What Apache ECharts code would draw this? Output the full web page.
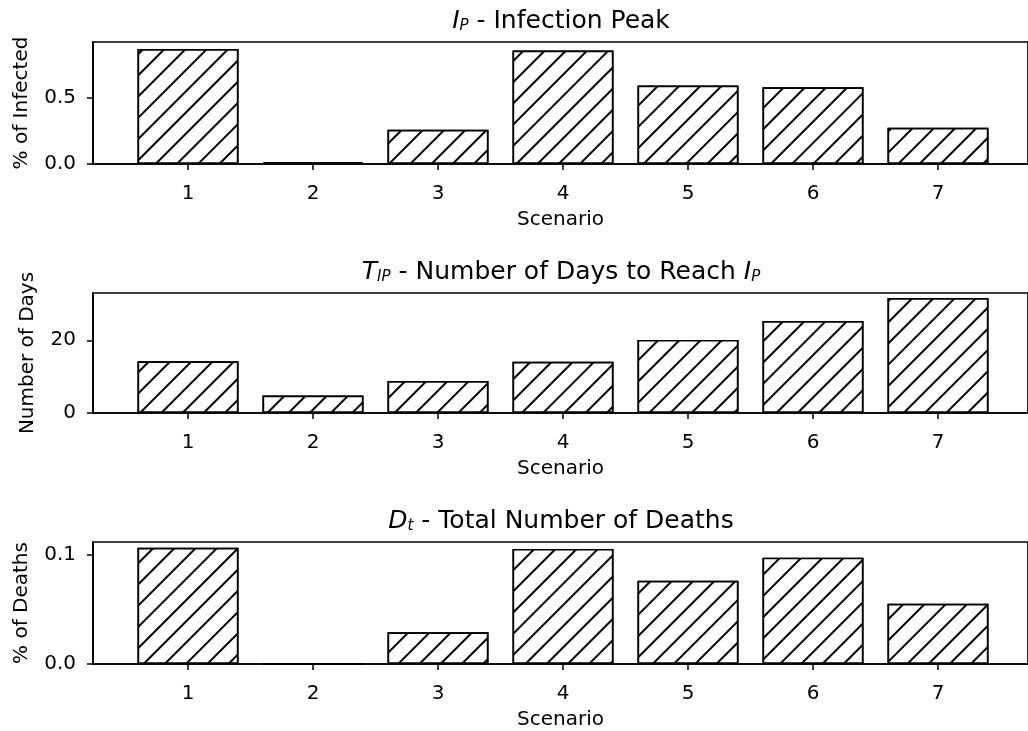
<!DOCTYPE html>
<html>
<head>
<meta charset="utf-8">
<script src="https://cdn.jsdelivr.net/npm/echarts@6/dist/echarts.min.js"></script>
<style>
  html, body { margin: 0; padding: 0; background: #fff; }
  #chart { width: 1028px; height: 731px; }
</style>
</head>
<body>
<div id="chart"></div>
<script>
// scenarios on the x axis
const scenarios = [1, 2, 3, 4, 5, 6, 7];

// I_P - infection peak (% of infected)
const infectionPeak = [0.873, 0.012, 0.26, 0.862, 0.595, 0.583, 0.275];
// T_IP - days to reach the peak
const daysToPeak = [14.2, 4.8, 8.8, 14.1, 20.1, 25.3, 31.6];
// D_t - total deaths (%)
const totalDeaths = [0.106, 0, 0.029, 0.105, 0.076, 0.097, 0.055];

const yTicks1 = [0, 0.5];
const yTicks2 = [0, 20];
const yTicks3 = [0, 0.1];

const FONT = 'DejaVu Sans';
const BLACK = '#000';

const chart = echarts.init(document.getElementById('chart'));

const panels = [
    {top: 42, height: 122, max: 0.926, ticks: yTicks1, digits: 1, name: '% of Infected', gap: 61, data: infectionPeak},
    {top: 293, height: 120, max: 33.0, ticks: yTicks2, digits: 0, name: 'Number of Days', gap: 55, data: daysToPeak},
    {top: 542, height: 122, max: 0.1113, ticks: yTicks3, digits: 1, name: '% of Deaths', gap: 61, data: totalDeaths}
];

const hatch = {
    symbol: 'rect',
    symbolSize: 1,
    color: BLACK,
    backgroundColor: '#fff',
    dashArrayX: [1, 0],
    dashArrayY: [1.6, 12.4],
    rotation: -Math.PI / 4
};

const subRich = {
    it: {fontFamily: FONT, fontSize: 25, fontStyle: 'italic', fontWeight: 'normal', color: BLACK, lineHeight: 30, verticalAlign: 'bottom'},
    sub: {fontFamily: FONT, fontSize: 15, fontStyle: 'italic', fontWeight: 'normal', color: BLACK, lineHeight: 12, verticalAlign: 'bottom'},
    t: {fontFamily: FONT, fontSize: 25, fontWeight: 'normal', color: BLACK, lineHeight: 30, verticalAlign: 'bottom'}
};

const titleTexts = [
    '{it|I}{sub|P}{t| - Infection Peak}',
    '{it|T}{sub|IP}{t| - Number of Days to Reach }{it|I}{sub|P}',
    '{it|D}{sub|t}{t| - Total Number of Deaths}'
];
const titleTops = [4, 255, 504];

const option = {
    animation: false,
    backgroundColor: '#fff',
    title: titleTexts.map((txt, i) => ({
        text: txt,
        left: 561,
        top: titleTops[i],
        textAlign: 'center',
        padding: 0,
        textStyle: {fontWeight: 'normal', rich: subRich}
    })),
    grid: panels.map(p => ({
        left: 93,
        width: 937,
        top: p.top,
        height: p.height,
        show: true,
        borderColor: BLACK,
        borderWidth: 1.7,
        backgroundColor: 'transparent'
    })),
    xAxis: panels.map((p, i) => ({
        type: 'value',
        gridIndex: i,
        min: 0.24,
        max: 7.72,
        name: 'Scenario',
        nameLocation: 'middle',
        nameGap: 46,
        nameTextStyle: {fontFamily: FONT, fontSize: 20, color: BLACK},
        axisLine: {show: true, lineStyle: {color: BLACK, width: 1.7}},
        axisTick: {show: true, length: 6, lineStyle: {color: BLACK, width: 1.5}, customValues: scenarios},
        axisLabel: {fontFamily: FONT, fontSize: 20, color: BLACK, margin: 20, customValues: scenarios},
        splitLine: {show: false}
    })),
    yAxis: panels.map((p, i) => ({
        type: 'value',
        gridIndex: i,
        min: 0,
        max: p.max,
        name: p.name,
        nameLocation: 'middle',
        nameGap: p.gap,
        nameTextStyle: {fontFamily: FONT, fontSize: 20, color: BLACK},
        axisLine: {show: true, lineStyle: {color: BLACK, width: 1.7}},
        axisTick: {show: true, length: 6, lineStyle: {color: BLACK, width: 1.5}, customValues: p.ticks},
        axisLabel: {
            fontFamily: FONT, fontSize: 20, color: BLACK, margin: 17,
            customValues: p.ticks,
            formatter: v => v.toFixed(p.digits)
        },
        splitLine: {show: false}
    })),
    series: panels.map((p, i) => ({
        type: 'bar',
        xAxisIndex: i,
        yAxisIndex: i,
        barWidth: 101,
        data: scenarios.map((s, k) => [s, p.data[k]]),
        itemStyle: {color: '#fff', borderColor: BLACK, borderWidth: 1.7, decal: hatch}
    }))
};

chart.setOption(option);
</script>
</body>
</html>
